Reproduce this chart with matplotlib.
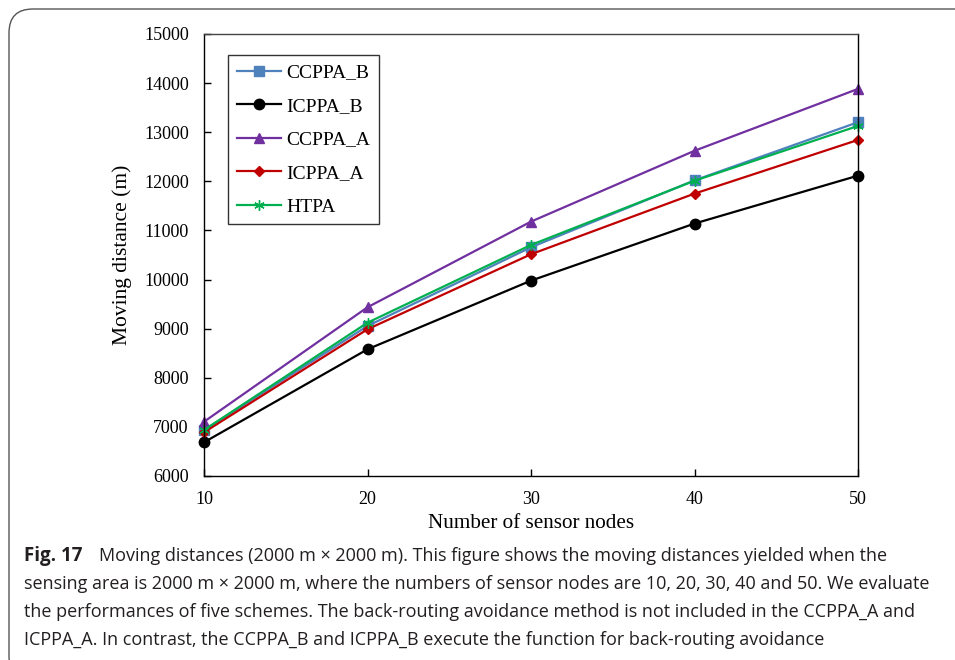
import matplotlib.pyplot as plt
from matplotlib.patches import FancyBboxPatch

# data
nodes = [10, 20, 30, 40, 50]
ccppa_b = [6930, 9055, 10657, 12020, 13204]
icppa_b = [6686, 8580, 9978, 11140, 12116]
ccppa_a = [7105, 9436, 11180, 12622, 13882]
icppa_a = [6890, 8988, 10515, 11750, 12843]
htpa = [6937, 9122, 10705, 12012, 13128]

labels = ["CCPPA_B", "ICPPA_B", "CCPPA_A", "ICPPA_A", "HTPA"]
colors = ["#4F81BD", "#000000", "#7030A0", "#C00000", "#00B050"]
markers = ["s", "o", "^", "D", (6, 2, 0)]
msizes = [6.5, 7.5, 7.5, 5.5, 7.5]

caption_lines = [
    "Moving distances (2000 m \u00d7 2000 m). This figure shows the moving distances yielded when the",
    "sensing area is 2000 m \u00d7 2000 m, where the numbers of sensor nodes are 10, 20, 30, 40 and 50. We evaluate",
    "the performances of five schemes. The back-routing avoidance method is not included in the CCPPA_A and",
    "ICPPA_A. In contrast, the CCPPA_B and ICPPA_B execute the function for back-routing avoidance",
]

serif = "Liberation Serif"
plt.rcParams["font.family"] = serif
plt.rcParams["xtick.labelsize"] = 13
plt.rcParams["ytick.labelsize"] = 13

W, H = 955, 660
fig = plt.figure(figsize=(W / 100, H / 100), dpi=100)

# rounded frame around the whole figure
frame = FancyBboxPatch((9 / W, -20 / H), (W + 40) / W, (H - 9 + 20) / H,
                       boxstyle="round,pad=0,rounding_size=0.025",
                       transform=fig.transFigure, facecolor="none",
                       edgecolor="#555555", linewidth=1.0, mutation_aspect=W / H)
fig.patches.append(frame)

ax = fig.add_axes([204 / W, 1 - 476 / H, (858 - 204) / W, (476 - 34) / H])

series = [ccppa_b, icppa_b, ccppa_a, icppa_a, htpa]
for vals, lab, c, m, ms in zip(series, labels, colors, markers, msizes):
    ax.plot(nodes, vals, color=c, marker=m, markersize=ms, linewidth=1.6,
            label=lab, markeredgecolor=c, markerfacecolor=c, clip_on=False)

ax.set_xlim(10, 50)
ax.set_ylim(6000, 15000)
ax.set_xticks(nodes)
ax.set_yticks(range(6000, 15001, 1000))
ax.tick_params(direction="in", length=5, width=1, pad=11)
for s in ["left", "bottom", "right", "top"]:
    ax.spines[s].set_linewidth(1.0)
ax.spines["top"].set_color("#444444")

ax.set_xlabel("Number of sensor nodes", fontsize=15.2)
ax.set_ylabel("Moving distance (m)", fontsize=15.5)
ax.xaxis.set_label_coords(0.5, (476 - 523) / 442, transform=ax.transAxes)
ax.yaxis.set_label_coords((122 - 204) / 654, 0.5, transform=ax.transAxes)
ax.xaxis.label.set_va("center")
ax.yaxis.label.set_va("center")

leg = ax.legend(loc="upper left", bbox_to_anchor=(228 / W, 1 - 55 / H),
                bbox_transform=fig.transFigure, prop={"family": serif, "size": 14},
                frameon=True, fancybox=False, edgecolor="black", borderpad=0.45,
                labelspacing=0.82, handlelength=2.3, handletextpad=0.25,
                borderaxespad=0)
leg.get_frame().set_linewidth(1.0)

# caption
cap_font = "Open Sans"
cap_color = "#231F20"
y0 = 1 - 561 / H
dy = 28 / H
fig.text(24 / W, y0, "Fig. 17", fontsize=13.5, fontweight="bold", family=cap_font,
         color=cap_color, va="baseline")
fig.text(99 / W, y0, caption_lines[0], fontsize=13, family=cap_font,
         color=cap_color, va="baseline")
for i, line in enumerate(caption_lines[1:], start=1):
    fig.text(24 / W, y0 - i * dy, line, fontsize=13, family=cap_font,
             color=cap_color, va="baseline")

fig.savefig("out.png", dpi=100)
